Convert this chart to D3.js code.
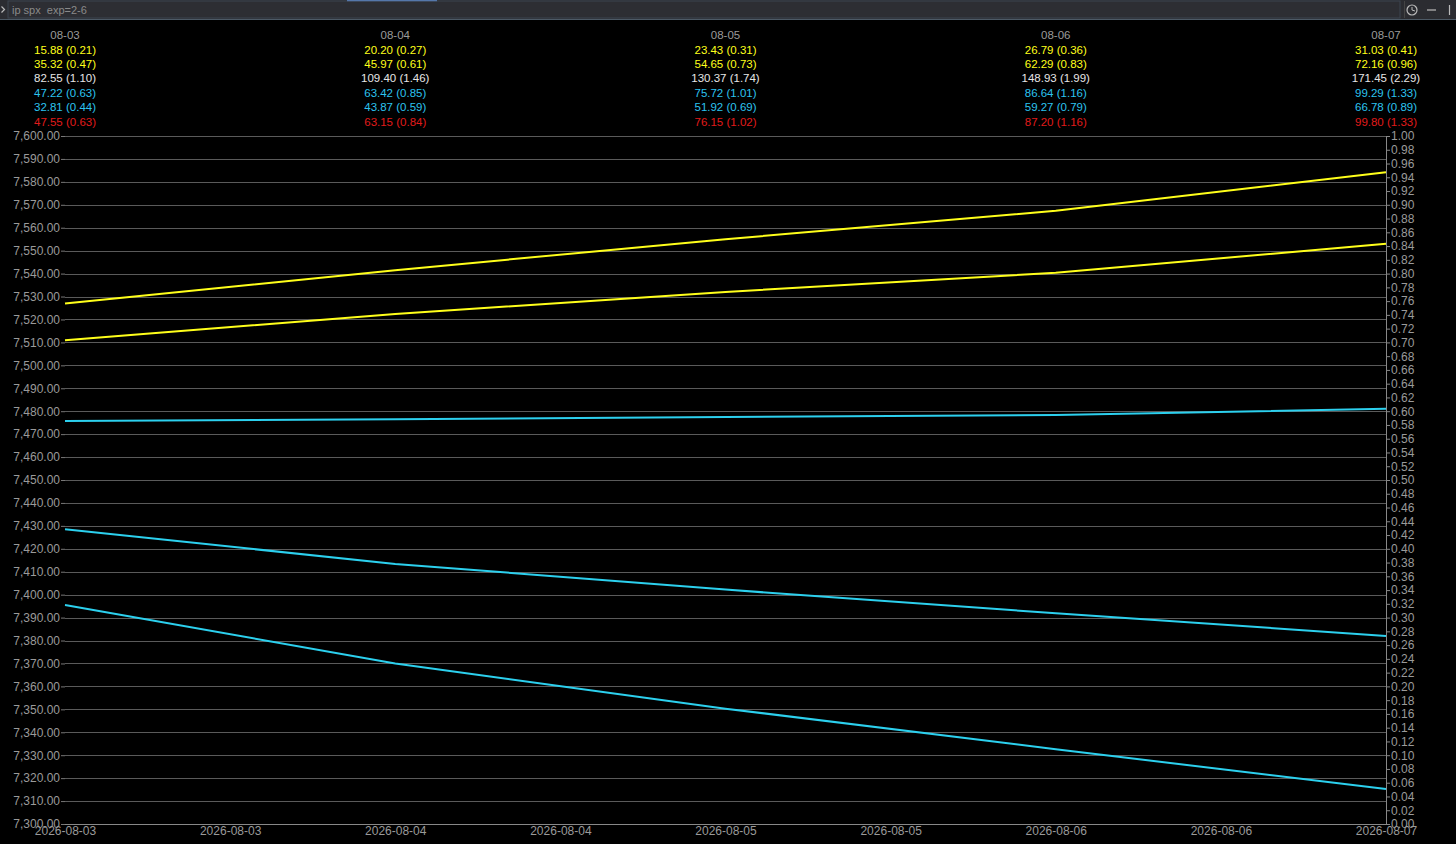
<!DOCTYPE html>
<html><head><meta charset="utf-8">
<script src="https://cdn.jsdelivr.net/npm/d3@7"></script>
<style>
html,body{margin:0;padding:0;background:#000;overflow:hidden;}
svg{display:block;font-family:"Liberation Sans",Arial,sans-serif;}
.pre{white-space:pre;}
</style></head><body>
<script>
// ---- data ----
const dates = ["2026-08-03","2026-08-04","2026-08-05","2026-08-06","2026-08-07"];
const headerDates = ["08-03","08-04","08-05","08-06","08-07"];
const headerRows = [
  {color:"#ffff1a", vals:["15.88 (0.21)","20.20 (0.27)","23.43 (0.31)","26.79 (0.36)","31.03 (0.41)"]},
  {color:"#ffff1a", vals:["35.32 (0.47)","45.97 (0.61)","54.65 (0.73)","62.29 (0.83)","72.16 (0.96)"]},
  {color:"#e6e6e6", vals:["82.55 (1.10)","109.40 (1.46)","130.37 (1.74)","148.93 (1.99)","171.45 (2.29)"]},
  {color:"#2cc3ef", vals:["47.22 (0.63)","63.42 (0.85)","75.72 (1.01)","86.64 (1.16)","99.29 (1.33)"]},
  {color:"#2cc3ef", vals:["32.81 (0.44)","43.87 (0.59)","51.92 (0.69)","59.27 (0.79)","66.78 (0.89)"]},
  {color:"#e01b1b", vals:["47.55 (0.63)","63.15 (0.84)","76.15 (1.02)","87.20 (1.16)","99.80 (1.33)"]}
];
const yellowUpper = [7527.0, 7541.5, 7555.0, 7567.4, 7584.2];
const yellowLower = [7510.9, 7522.4, 7532.0, 7540.4, 7553.0];
const cyanFlat    = [7475.7, 7476.5, 7477.5, 7478.3, 7481.1];
const cyanMid     = [7428.5, 7413.4, 7402.2, 7391.9, 7382.0];
const cyanLow     = [7395.5, 7370.0, 7350.3, 7332.6, 7315.3];
const series = [
  {values: yellowUpper, color:"#ffff1a"},
  {values: yellowLower, color:"#ffff1a"},
  {values: cyanFlat,    color:"#2cd0ee"},
  {values: cyanMid,     color:"#2cd0ee"},
  {values: cyanLow,     color:"#2cd0ee"}
];
const leftDomain = [7300, 7600];
const rightDomain = [0, 1];
const toolbarText = "ip spx  exp=2-6";

// ---- layout ----
const W = 1456, H = 844;
const x0 = 65, x1 = 1386, yTop = 136, yBot = 824;
const parse = d3.timeParse("%Y-%m-%d");
const svg = d3.select("body").append("svg").attr("width", W).attr("height", H);
svg.append("rect").attr("width", W).attr("height", H).attr("fill", "#000");

// toolbar
svg.append("rect").attr("x",0).attr("y",0).attr("width",W).attr("height",19).attr("fill","#2b2c31");
svg.append("rect").attr("x",8).attr("y",1).attr("width",1392).attr("height",17).attr("fill","#2d2e33").attr("stroke","#3c4450");
svg.append("line").attr("x1",0).attr("x2",W).attr("y1",19.5).attr("y2",19.5).attr("stroke","#4d5a66");
svg.append("line").attr("x1",347).attr("x2",437).attr("y1",0.5).attr("y2",0.5).attr("stroke","#5577aa").attr("stroke-width",1.5);
svg.append("path").attr("d","M1.5,6.5 L4.5,9.5 L1.5,12.5").attr("fill","none").attr("stroke","#bbb").attr("stroke-width",1.2);
svg.append("text").attr("class","pre").attr("x",12).attr("y",13.5).attr("fill","#8a8a8a").attr("font-size",11).text(toolbarText);
// toolbar icons
svg.append("circle").attr("cx",1412).attr("cy",10).attr("r",5).attr("fill","none").attr("stroke","#bbb").attr("stroke-width",1.2);
svg.append("path").attr("d","M1412,7 L1412,10 L1415,11").attr("fill","none").attr("stroke","#bbb").attr("stroke-width",1);
svg.append("line").attr("x1",1427).attr("x2",1436).attr("y1",10).attr("y2",10).attr("stroke","#bbb").attr("stroke-width",1.2);
svg.append("line").attr("x1",1449.5).attr("x2",1449.5).attr("y1",5).attr("y2",15).attr("stroke","#bbb").attr("stroke-width",1.2);
svg.append("line").attr("x1",1404.5).attr("x2",1404.5).attr("y1",1).attr("y2",18).attr("stroke","#444");

// scales
const x = d3.scaleTime().domain([parse(dates[0]), parse(dates[dates.length-1])]).range([x0, x1]);
const yL = d3.scaleLinear().domain(leftDomain).range([yBot, yTop]);
const yR = d3.scaleLinear().domain(rightDomain).range([yBot, yTop]);

// header
const header = svg.append("g").attr("font-size", 11.5).attr("text-anchor","middle");
dates.forEach((d,i) => {
  const cx = x(parse(d));
  header.append("text").attr("x",cx).attr("y",39).attr("fill","#9a9a9a").text(headerDates[i]);
  headerRows.forEach((r,j) => {
    header.append("text").attr("x",cx).attr("y",53.5 + j*14.4).attr("fill",r.color).text(r.vals[i]);
  });
});

// grid
const lTicks = d3.range(leftDomain[0], leftDomain[1] + 0.1, 10);
svg.append("g").selectAll("line").data(lTicks).join("line")
  .attr("x1", x0).attr("x2", x1)
  .attr("y1", d => Math.round(yL(d)) + 0.5).attr("y2", d => Math.round(yL(d)) + 0.5)
  .attr("stroke", "#5a5a5a").attr("stroke-width", 1);

// left axis
const fmtL = d3.format(",.2f");
const gl = svg.append("g").attr("transform", `translate(${x0},0)`)
  .call(d3.axisLeft(yL).tickValues(lTicks).tickFormat(fmtL).tickSize(4).tickPadding(1));
gl.select(".domain").remove();
gl.selectAll("line").attr("stroke","#777");
gl.selectAll("text").attr("fill","#9a9a9a").attr("font-size",12).attr("font-family","Liberation Sans, Arial, sans-serif");

// right axis
const rTicks = d3.range(0, 51).map(i => i/50);
const gr = svg.append("g").attr("transform", `translate(${x1},0)`)
  .call(d3.axisRight(yR).tickValues(rTicks).tickFormat(d3.format(".2f")).tickSize(4).tickPadding(1));
gr.select(".domain").attr("stroke","#888").attr("d", `M0.5,${yTop}V${yBot}`);
gr.selectAll("line").attr("stroke","#888");
gr.selectAll("text").attr("fill","#9a9a9a").attr("font-size",12).attr("font-family","Liberation Sans, Arial, sans-serif");

// bottom axis
const xTicks = d3.timeHour.every(12).range(parse(dates[0]), d3.timeHour.offset(parse(dates[dates.length-1]), 1));
const gb = svg.append("g").attr("transform", `translate(0,${yBot})`)
  .call(d3.axisBottom(x).tickValues(xTicks).tickFormat(d3.timeFormat("%Y-%m-%d")).tickSize(0).tickPadding(2));
gb.select(".domain").attr("stroke","#888").attr("d", `M${x0},0.5H${x1}`);
gb.selectAll("text").attr("fill","#9a9a9a").attr("font-size",12).attr("font-family","Liberation Sans, Arial, sans-serif");

// lines
const line = d3.line().x((d,i) => x(parse(dates[i]))).y(d => yL(d));
svg.append("g").selectAll("path").data(series).join("path")
  .attr("d", s => line(s.values))
  .attr("fill","none").attr("stroke", s => s.color).attr("stroke-width", 2);
</script>
</body></html>
